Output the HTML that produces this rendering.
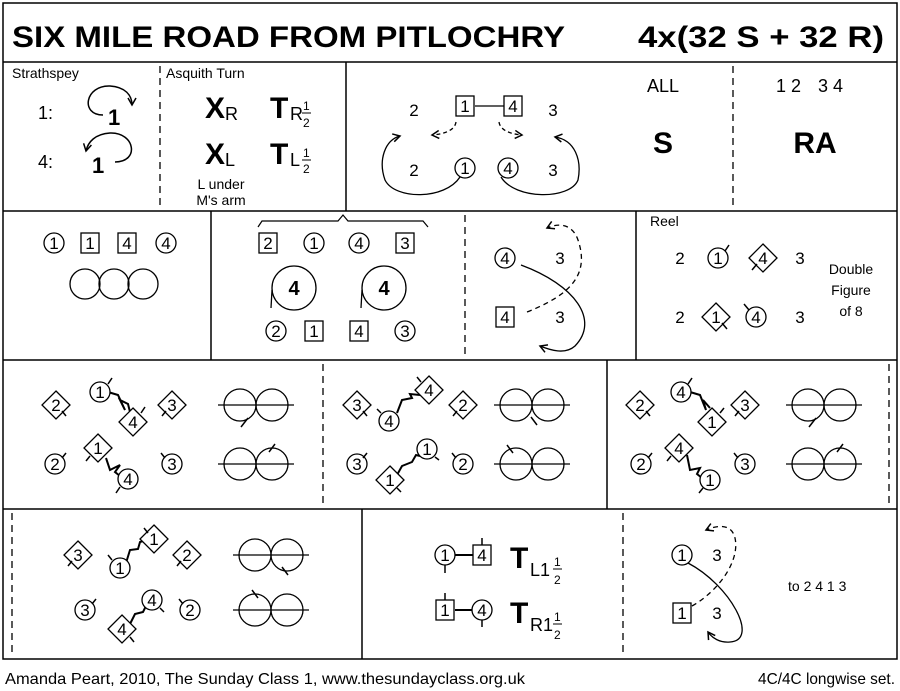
<!DOCTYPE html>
<html><head><meta charset="utf-8"><style>
html,body{margin:0;padding:0;background:#fff}
svg{display:block;font-family:"Liberation Sans",sans-serif}
</style></head><body>
<svg width="900" height="691" viewBox="0 0 900 691" xmlns="http://www.w3.org/2000/svg">
<defs>
<marker id="ah" markerWidth="10" markerHeight="10" refX="8" refY="5" orient="auto" markerUnits="userSpaceOnUse"><path d="M1,1 L8,5 L1,9" fill="none" stroke="#000" stroke-width="1.5"/></marker>
<g id="c"><circle r="10" fill="#fff" stroke="#000" stroke-width="1.3"/></g>
<g id="s"><rect x="-9" y="-10" width="18" height="20" fill="#fff" stroke="#000" stroke-width="1.3"/></g>
<g id="d"><path d="M0,-14 L14,0 L0,14 L-14,0Z" fill="#fff" stroke="#000" stroke-width="1.3"/></g>
<g id="f8"><circle cx="-16" cy="0" r="16" fill="none" stroke="#000" stroke-width="1.3"/><circle cx="16" cy="0" r="16" fill="none" stroke="#000" stroke-width="1.3"/><line x1="-38" y1="0" x2="38" y2="0" stroke="#000" stroke-width="1.3"/></g>
</defs>
<g fill="none" stroke="#000" stroke-width="1.5">
<rect x="3" y="3" width="894" height="656"/>
<line x1="3" y1="62" x2="897" y2="62"/>
<line x1="3" y1="211" x2="897" y2="211"/>
<line x1="3" y1="360" x2="897" y2="360"/>
<line x1="3" y1="509" x2="897" y2="509"/>
<line x1="346" y1="62" x2="346" y2="211"/>
<line x1="211" y1="211" x2="211" y2="360"/>
<line x1="636" y1="211" x2="636" y2="360"/>
<line x1="607" y1="360" x2="607" y2="509"/>
<line x1="362" y1="509" x2="362" y2="659"/>
</g>
<g stroke="#000" stroke-width="1.3" stroke-dasharray="7,5">
<line x1="160" y1="66" x2="160" y2="208"/>
<line x1="733" y1="66" x2="733" y2="208"/>
<line x1="465" y1="215" x2="465" y2="357"/>
<line x1="323" y1="364" x2="323" y2="506"/>
<line x1="889" y1="364" x2="889" y2="506"/>
<line x1="12" y1="513" x2="12" y2="656"/>
<line x1="623" y1="513" x2="623" y2="656"/>
</g>
<text x="12" y="47" font-size="30" font-weight="bold" textLength="553" lengthAdjust="spacingAndGlyphs">SIX MILE ROAD FROM PITLOCHRY</text>
<text x="638" y="47" font-size="30" font-weight="bold" textLength="246" lengthAdjust="spacingAndGlyphs">4x(32 S + 32 R)</text>

<!-- row 1 -->
<g font-size="14"><text x="12" y="78">Strathspey</text><text x="166" y="78">Asquith Turn</text></g>
<g font-size="18"><text x="38" y="119">1:</text><text x="38" y="168">4:</text></g>
<g font-size="22" font-weight="bold"><text x="108" y="125">1</text><text x="92" y="173">1</text></g>
<path d="M103,115 C80,115 85,85 110,86 C125,87 132,95 132,105" fill="none" stroke="#000" stroke-width="1.5" marker-end="url(#ah)"/>
<path d="M115,162 C140,162 135,132 110,133 C95,134 88,142 86,151" fill="none" stroke="#000" stroke-width="1.5" marker-end="url(#ah)"/>
<g font-weight="bold" font-size="30"><text x="205" y="118">X</text><text x="270" y="118">T</text><text x="205" y="164">X</text><text x="270" y="164">T</text></g>
<g font-size="18"><text x="225" y="120">R</text><text x="290" y="120">R</text><text x="225" y="166">L</text><text x="290" y="166">L</text></g>
<g font-size="12"><text x="303" y="110">1</text><text x="303" y="127">2</text><text x="303" y="157">1</text><text x="303" y="173">2</text></g>
<line x1="302" y1="113" x2="311" y2="113" stroke="#000"/><line x1="302" y1="160" x2="311" y2="160" stroke="#000"/>
<g font-size="14" text-anchor="middle"><text x="221" y="189">L under</text><text x="221" y="205">M's arm</text></g>

<g font-size="17" text-anchor="middle">
<text x="414" y="116">2</text><text x="553" y="116">3</text><text x="414" y="176">2</text><text x="553" y="176">3</text>
</g>
<line x1="475" y1="106" x2="504" y2="106" stroke="#000" stroke-width="1.3"/>
<use href="#s" x="465" y="106"/><use href="#s" x="513" y="106"/>
<use href="#c" x="465" y="168"/><use href="#c" x="508" y="168"/>
<g font-size="17" text-anchor="middle"><text x="465" y="112">1</text><text x="513" y="112">4</text><text x="465" y="174">1</text><text x="508" y="174">4</text></g>
<path d="M456,122 C455,130 445,134 432,135" fill="none" stroke="#000" stroke-width="1.3" stroke-dasharray="4,3" marker-end="url(#ah)"/>
<path d="M499,122 C500,130 510,134 522,135" fill="none" stroke="#000" stroke-width="1.3" stroke-dasharray="4,3" marker-end="url(#ah)"/>
<path d="M460,177 C445,200 395,200 385,180 C378,160 385,140 400,136" fill="none" stroke="#000" stroke-width="1.3" marker-end="url(#ah)"/>
<path d="M501,177 C515,200 570,200 578,180 C582,160 575,140 555,137" fill="none" stroke="#000" stroke-width="1.3" marker-end="url(#ah)"/>
<text x="663" y="92" font-size="18" text-anchor="middle">ALL</text>
<text x="663" y="153" font-size="30" font-weight="bold" text-anchor="middle">S</text>
<g font-size="18" text-anchor="middle"><text x="781" y="92">1</text><text x="796" y="92">2</text><text x="823" y="92">3</text><text x="838" y="92">4</text></g>
<text x="815" y="153" font-size="30" font-weight="bold" text-anchor="middle">RA</text>

<!-- row 2 -->
<use href="#c" x="54" y="243"/><use href="#s" x="90" y="243"/><use href="#s" x="127" y="243"/><use href="#c" x="166" y="243"/>
<g font-size="17" text-anchor="middle"><text x="54" y="249">1</text><text x="90" y="249">1</text><text x="127" y="249">4</text><text x="166" y="249">4</text></g>
<g fill="none" stroke="#000" stroke-width="1.3"><circle cx="85" cy="284" r="15"/><circle cx="114" cy="284" r="15"/><circle cx="143" cy="284" r="15"/></g>
<path d="M258,227 L262,221 L338,221 L343,215 L348,221 L423,221 L428,227" fill="none" stroke="#000" stroke-width="1.2"/>
<use href="#s" x="268" y="243"/><use href="#c" x="314" y="243"/><use href="#c" x="359" y="243"/><use href="#s" x="405" y="243"/>
<use href="#c" x="276" y="331"/><use href="#s" x="314" y="331"/><use href="#s" x="359" y="331"/><use href="#c" x="405" y="331"/>
<g font-size="17" text-anchor="middle"><text x="268" y="249">2</text><text x="314" y="249">1</text><text x="359" y="249">4</text><text x="405" y="249">3</text>
<text x="276" y="337">2</text><text x="314" y="337">1</text><text x="359" y="337">4</text><text x="405" y="337">3</text></g>
<g fill="none" stroke="#000" stroke-width="1.3"><circle cx="294" cy="288" r="22"/><circle cx="384" cy="288" r="22"/><path d="M272,290 L271,308"/><path d="M362,290 L361,308"/></g>
<g font-size="20" font-weight="bold" text-anchor="middle"><text x="294" y="295">4</text><text x="384" y="295">4</text></g>

<path d="M521,265 C575,285 600,320 575,346 C565,355 550,350 540,346" fill="none" stroke="#000" stroke-width="1.3" marker-end="url(#ah)"/>
<path d="M527,312 C570,295 590,275 578,240 C573,225 560,222 547,228" fill="none" stroke="#000" stroke-width="1.3" stroke-dasharray="5,4" marker-end="url(#ah)"/>
<use href="#c" x="505" y="258"/><use href="#s" x="505" y="317"/>
<g font-size="17" text-anchor="middle"><text x="505" y="264">4</text><text x="560" y="264">3</text><text x="505" y="323">4</text><text x="560" y="323">3</text></g>
<text x="650" y="226" font-size="14">Reel</text>
<use href="#c" x="718" y="258"/><use href="#d" x="763" y="258"/><use href="#d" x="716" y="317"/><use href="#c" x="756" y="317"/>
<g stroke="#000" stroke-width="1.5"><line x1="725" y1="251" x2="729" y2="245"/><line x1="757" y1="264" x2="752" y2="270"/><line x1="722" y1="323" x2="727" y2="329"/><line x1="749" y1="310" x2="744" y2="304"/></g>
<g font-size="17" text-anchor="middle"><text x="680" y="264">2</text><text x="718" y="264">1</text><text x="763" y="264">4</text><text x="800" y="264">3</text>
<text x="680" y="323">2</text><text x="716" y="323">1</text><text x="756" y="323">4</text><text x="800" y="323">3</text></g>
<g font-size="14" text-anchor="middle"><text x="851" y="274">Double</text><text x="851" y="295">Figure</text><text x="851" y="316">of 8</text></g>

<g stroke="#000" stroke-width="2" fill="none">
<polyline points="108,392 118,395 125,410 120,400 128,404 130,412"/>
<polyline points="106,458 110,470 120,465 115,472 120,476"/>
<polyline points="397,413 402,400 412,398 410,394 420,395"/>
<polyline points="397,475 402,466 412,462 416,455 420,456"/>
<polyline points="690,392 700,395 706,410 703,400 710,408"/>
<polyline points="687,455 690,470 700,468 697,474 702,478"/>
<polyline points="126,563 130,550 138,549 140,542 146,540"/>
<polyline points="130,624 135,614 143,612 147,604 150,606"/>
</g>
<use href="#d" x="56" y="405"/><use href="#c" x="100" y="392"/><use href="#d" x="133" y="422"/><use href="#d" x="172" y="405"/>
<use href="#c" x="55" y="464"/><use href="#d" x="98" y="448"/><use href="#c" x="128" y="479"/><use href="#c" x="172" y="464"/>
<use href="#f8" x="256" y="405"/><use href="#f8" x="256" y="464"/>
<use href="#d" x="357" y="405"/><use href="#c" x="389" y="421"/><use href="#d" x="429" y="390"/><use href="#d" x="463" y="405"/>
<use href="#c" x="357" y="464"/><use href="#d" x="390" y="480"/><use href="#c" x="427" y="449"/><use href="#c" x="463" y="464"/>
<use href="#f8" x="532" y="405"/><use href="#f8" x="532" y="464"/>
<use href="#d" x="640" y="405"/><use href="#c" x="681" y="392"/><use href="#d" x="712" y="422"/><use href="#d" x="745" y="405"/>
<use href="#c" x="641" y="464"/><use href="#d" x="679" y="448"/><use href="#c" x="710" y="480"/><use href="#c" x="745" y="464"/>
<use href="#f8" x="824" y="405"/><use href="#f8" x="824" y="464"/>
<g font-size="17" text-anchor="middle">
<text x="56" y="411">2</text><text x="100" y="398">1</text><text x="133" y="428">4</text><text x="172" y="411">3</text>
<text x="55" y="470">2</text><text x="98" y="454">1</text><text x="128" y="485">4</text><text x="172" y="470">3</text>
<text x="357" y="411">3</text><text x="389" y="427">4</text><text x="429" y="396">4</text><text x="463" y="411">2</text>
<text x="357" y="470">3</text><text x="390" y="486">1</text><text x="427" y="455">1</text><text x="463" y="470">2</text>
<text x="640" y="411">2</text><text x="681" y="398">4</text><text x="712" y="428">1</text><text x="745" y="411">3</text>
<text x="641" y="470">2</text><text x="679" y="454">4</text><text x="710" y="486">1</text><text x="745" y="470">3</text>
</g>
<g stroke="#000" stroke-width="1.5">
<line x1="62" y1="411" x2="66" y2="416"/><line x1="108" y1="384" x2="112" y2="378"/><line x1="141" y1="413" x2="145" y2="407"/><line x1="166" y1="411" x2="162" y2="416"/>
<line x1="62" y1="458" x2="66" y2="453"/><line x1="90" y1="456" x2="86" y2="461"/><line x1="120" y1="487" x2="116" y2="493"/><line x1="165" y1="458" x2="161" y2="453"/>
<line x1="363" y1="411" x2="367" y2="416"/><line x1="381" y1="413" x2="377" y2="409"/><line x1="421" y1="382" x2="417" y2="377"/><line x1="457" y1="411" x2="453" y2="416"/>
<line x1="363" y1="458" x2="367" y2="453"/><line x1="397" y1="488" x2="401" y2="492"/><line x1="435" y1="457" x2="439" y2="460"/><line x1="456" y1="458" x2="452" y2="453"/>
<line x1="646" y1="411" x2="650" y2="416"/><line x1="688" y1="384" x2="692" y2="378"/><line x1="720" y1="413" x2="724" y2="408"/><line x1="739" y1="411" x2="735" y2="416"/>
<line x1="648" y1="458" x2="652" y2="453"/><line x1="671" y1="456" x2="667" y2="461"/><line x1="703" y1="488" x2="699" y2="493"/><line x1="738" y1="458" x2="734" y2="453"/>
<line x1="248" y1="418" x2="241" y2="427"/><line x1="269" y1="452" x2="275" y2="444"/>
<line x1="531" y1="417" x2="537" y2="425"/><line x1="513" y1="453" x2="507" y2="445"/>
<line x1="816" y1="418" x2="809" y2="427"/><line x1="837" y1="452" x2="843" y2="444"/>
</g>

<!-- row 4 -->
<use href="#d" x="78" y="555"/><use href="#c" x="120" y="568"/><use href="#d" x="154" y="539"/><use href="#d" x="187" y="555"/>
<use href="#c" x="85" y="610"/><use href="#d" x="122" y="629"/><use href="#c" x="152" y="600"/><use href="#c" x="190" y="610"/>
<use href="#f8" x="271" y="555"/><use href="#f8" x="271" y="610"/>
<g font-size="17" text-anchor="middle">
<text x="78" y="561">3</text><text x="120" y="574">1</text><text x="154" y="545">1</text><text x="187" y="561">2</text>
<text x="85" y="616">3</text><text x="122" y="635">4</text><text x="152" y="606">4</text><text x="190" y="616">2</text>
</g>
<g stroke="#000" stroke-width="1.5">
<line x1="72" y1="561" x2="68" y2="566"/><line x1="112" y1="560" x2="108" y2="555"/><line x1="148" y1="533" x2="144" y2="528"/><line x1="181" y1="561" x2="177" y2="566"/>
<line x1="92" y1="604" x2="96" y2="599"/><line x1="130" y1="637" x2="134" y2="642"/><line x1="160" y1="608" x2="164" y2="612"/><line x1="183" y1="604" x2="179" y2="599"/>
<line x1="282" y1="567" x2="288" y2="575"/><line x1="258" y1="598" x2="252" y2="590"/>
</g>
<g stroke="#000" stroke-width="1.5"><line x1="455" y1="555" x2="473" y2="555" stroke-width="2"/><line x1="455" y1="610" x2="473" y2="610" stroke-width="2"/>
<line x1="445" y1="565" x2="445" y2="573"/><line x1="482" y1="545" x2="482" y2="538"/><line x1="445" y1="600" x2="445" y2="593"/><line x1="482" y1="620" x2="482" y2="627"/></g>
<use href="#c" x="445" y="555"/><use href="#s" x="482" y="555"/><use href="#s" x="445" y="610"/><use href="#c" x="482" y="610"/>
<g font-size="17" text-anchor="middle"><text x="445" y="561">1</text><text x="482" y="561">4</text><text x="445" y="616">1</text><text x="482" y="616">4</text></g>
<g font-weight="bold" font-size="30"><text x="510" y="568">T</text><text x="510" y="623">T</text></g>
<g font-size="18"><text x="530" y="576">L1</text><text x="530" y="631">R1</text></g>
<g font-size="12"><text x="554" y="566">1</text><text x="554" y="584">2</text><text x="554" y="621">1</text><text x="554" y="639">2</text></g>
<line x1="553" y1="569" x2="562" y2="569" stroke="#000"/><line x1="553" y1="624" x2="562" y2="624" stroke="#000"/>

<path d="M688,563 C730,585 760,640 730,642 C720,643 712,638 708,632" fill="none" stroke="#000" stroke-width="1.3" marker-end="url(#ah)"/>
<path d="M692,606 C720,590 740,560 735,538 C732,525 720,524 706,530" fill="none" stroke="#000" stroke-width="1.3" stroke-dasharray="5,4" marker-end="url(#ah)"/>
<use href="#c" x="682" y="555"/><use href="#s" x="682" y="613"/>
<g font-size="17" text-anchor="middle"><text x="682" y="561">1</text><text x="717" y="561">3</text><text x="682" y="619">1</text><text x="717" y="619">3</text></g>
<text x="788" y="591" font-size="14">to 2 4 1 3</text>

<text x="5" y="684" font-size="16" textLength="520" lengthAdjust="spacingAndGlyphs">Amanda Peart, 2010, The Sunday Class 1, www.thesundayclass.org.uk</text>
<text x="758" y="684" font-size="16" textLength="137" lengthAdjust="spacingAndGlyphs">4C/4C longwise set.</text>
</svg>
</body></html>
